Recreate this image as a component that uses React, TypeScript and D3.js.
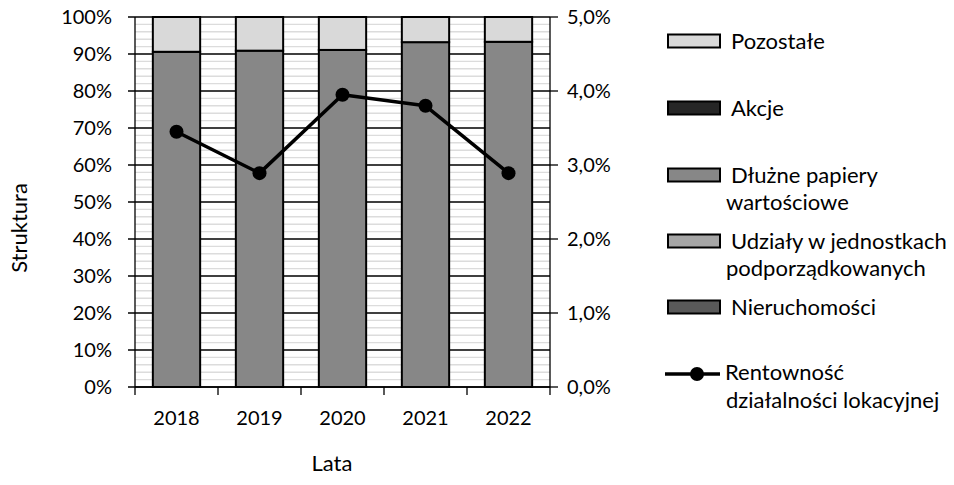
import React from "react";
import * as d3 from "d3";

// Portfolio structure by year (% of total) and rental-activity return (%)
const years = ["2018", "2019", "2020", "2021", "2022"];
const nieruchomosci = [0, 0, 0, 0, 0];
const udzialy = [0, 0, 0, 0, 0];
const dluzne = [90.6, 90.9, 91.1, 93.2, 93.3];
const akcje = [0, 0, 0, 0, 0];
const pozostale = [9.4, 9.1, 8.9, 6.8, 6.7];
const rentownosc = [3.45, 2.89, 3.95, 3.8, 2.89];

const leftTicks = [0, 10, 20, 30, 40, 50, 60, 70, 80, 90, 100];
const rightTicks = [0, 1, 2, 3, 4, 5];

const seriesKeys = ["Nieruchomości", "Udziały", "Dłużne", "Akcje", "Pozostałe"];
const seriesValues = [nieruchomosci, udzialy, dluzne, akcje, pozostale];
const seriesColors = ["#595959", "#a6a6a6", "#878787", "#262626", "#d9d9d9"];

const W = 954;
const H = 485;
const M = { left: 135, right: 550, top: 17, bottom: 387 };
const FONT = "Lato, 'Open Sans', sans-serif";
const TEXT_SIZE = 22;

export default function App() {
  const x = d3
    .scaleBand<string>()
    .domain(years)
    .range([M.left, M.right])
    .paddingInner(0.43)
    .paddingOuter(0.215);
  const yL = d3.scaleLinear().domain([0, 100]).range([M.bottom, M.top]);
  const yR = d3.scaleLinear().domain([0, 5]).range([M.bottom, M.top]);

  const rows = years.map((yr, i) => {
    const r: Record<string, number | string> = { year: yr };
    seriesKeys.forEach((k, j) => (r[k] = seriesValues[j][i]));
    return r;
  });
  const stacked = d3.stack<any>().keys(seriesKeys)(rows);

  const minor = d3.range(0, 101, 2).filter((v) => v % 10 !== 0);
  const line = d3
    .line<number>()
    .x((_, i) => (x(years[i]) as number) + x.bandwidth() / 2)
    .y((v) => yR(v));

  const legendBoxes = [
    { key: 4, cy: 41, lines: ["Pozostałe"] },
    { key: 3, cy: 108, lines: ["Akcje"] },
    { key: 2, cy: 175, lines: ["Dłużne papiery", "wartościowe"] },
    { key: 1, cy: 241, lines: ["Udziały w jednostkach", "podporządkowanych"] },
    { key: 0, cy: 307, lines: ["Nieruchomości"] },
  ];

  return (
    <svg
      width={W}
      height={H}
      style={{ position: "absolute", left: 0, top: 0, background: "#fff" }}
      fontFamily={FONT}
      fontSize={20}
      fill="#000"
    >
      {/* minor gridlines */}
      {minor.map((v) => (
        <line key={"m" + v} x1={M.left} x2={M.right} y1={yL(v)} y2={yL(v)} stroke="#dcdcdc" strokeWidth={1.4} />
      ))}
      {/* major gridlines with outer tick on the left */}
      {leftTicks.map((v) => (
        <line key={"g" + v} x1={M.left - 7} x2={M.right} y1={yL(v)} y2={yL(v)} stroke="#000" strokeWidth={1.3} />
      ))}
      {/* right axis ticks */}
      {rightTicks.map((v) => (
        <line key={"rt" + v} x1={M.right} x2={M.right + 8} y1={yR(v)} y2={yR(v)} stroke="#000" strokeWidth={1.3} />
      ))}
      {/* bars */}
      {stacked.map((s, j) =>
        s.map((d, i) =>
          d[1] - d[0] > 0 ? (
            <rect
              key={j + "-" + i}
              x={x(years[i])}
              width={x.bandwidth()}
              y={yL(d[1])}
              height={yL(d[0]) - yL(d[1])}
              fill={seriesColors[j]}
              stroke="#000"
              strokeWidth={2}
            />
          ) : null
        )
      )}
      {/* axes */}
      <line x1={M.left} x2={M.left} y1={M.top} y2={M.bottom} stroke="#000" strokeWidth={1.3} />
      <line x1={M.right} x2={M.right} y1={M.top} y2={M.bottom} stroke="#000" strokeWidth={1.3} />
      <line x1={M.left} x2={M.right} y1={M.bottom} y2={M.bottom} stroke="#000" strokeWidth={1.5} />
      {d3.range(years.length + 1).map((i) => {
        const xx = M.left + i * x.step();
        return <line key={"bt" + i} x1={xx} x2={xx} y1={M.bottom} y2={M.bottom + 8} stroke="#000" strokeWidth={1.3} />;
      })}
      {/* left tick labels */}
      {leftTicks.map((v) => (
        <text key={"lt" + v} x={112} y={yL(v) + 7} textAnchor="end">
          {v + "%"}
        </text>
      ))}
      {/* right tick labels */}
      {rightTicks.map((v) => (
        <text key={"rl" + v} x={567} y={yR(v) + 7} textAnchor="start">
          {v.toFixed(1).replace(".", ",") + "%"}
        </text>
      ))}
      {/* category labels */}
      {years.map((yr) => (
        <text key={"c" + yr} x={(x(yr) as number) + x.bandwidth() / 2} y={425} textAnchor="middle">
          {yr}
        </text>
      ))}
      {/* return line */}
      <path d={line(rentownosc) || ""} fill="none" stroke="#000" strokeWidth={3.5} strokeLinejoin="round" />
      {rentownosc.map((v, i) => (
        <circle key={"p" + i} cx={(x(years[i]) as number) + x.bandwidth() / 2} cy={yR(v)} r={7} fill="#000" />
      ))}
      {/* axis titles */}
      <text x={332} y={471} textAnchor="middle" fontSize={TEXT_SIZE}>
        Lata
      </text>
      <text transform="translate(27,228) rotate(-90)" textAnchor="middle" fontSize={TEXT_SIZE}>
        Struktura
      </text>
      {/* legend */}
      <g fontSize={TEXT_SIZE}>
        {legendBoxes.map((b) => (
          <g key={"lg" + b.key}>
            <rect x={668} y={b.cy - 6.5} width={52} height={13} fill={seriesColors[b.key]} stroke="#000" strokeWidth={2} />
            {b.lines.map((t, k) => (
              <text key={k} x={k === 0 ? 731 : 726} y={b.cy + 8 + k * 27}>
                {t}
              </text>
            ))}
          </g>
        ))}
        <line x1={665} x2={720} y1={374} y2={374} stroke="#000" strokeWidth={3.5} />
        <circle cx={697} cy={374} r={7} fill="#000" />
        <text x={725} y={380}>
          Rentowność
        </text>
        <text x={726} y={408}>
          działalności lokacyjnej
        </text>
      </g>
    </svg>
  );
}
